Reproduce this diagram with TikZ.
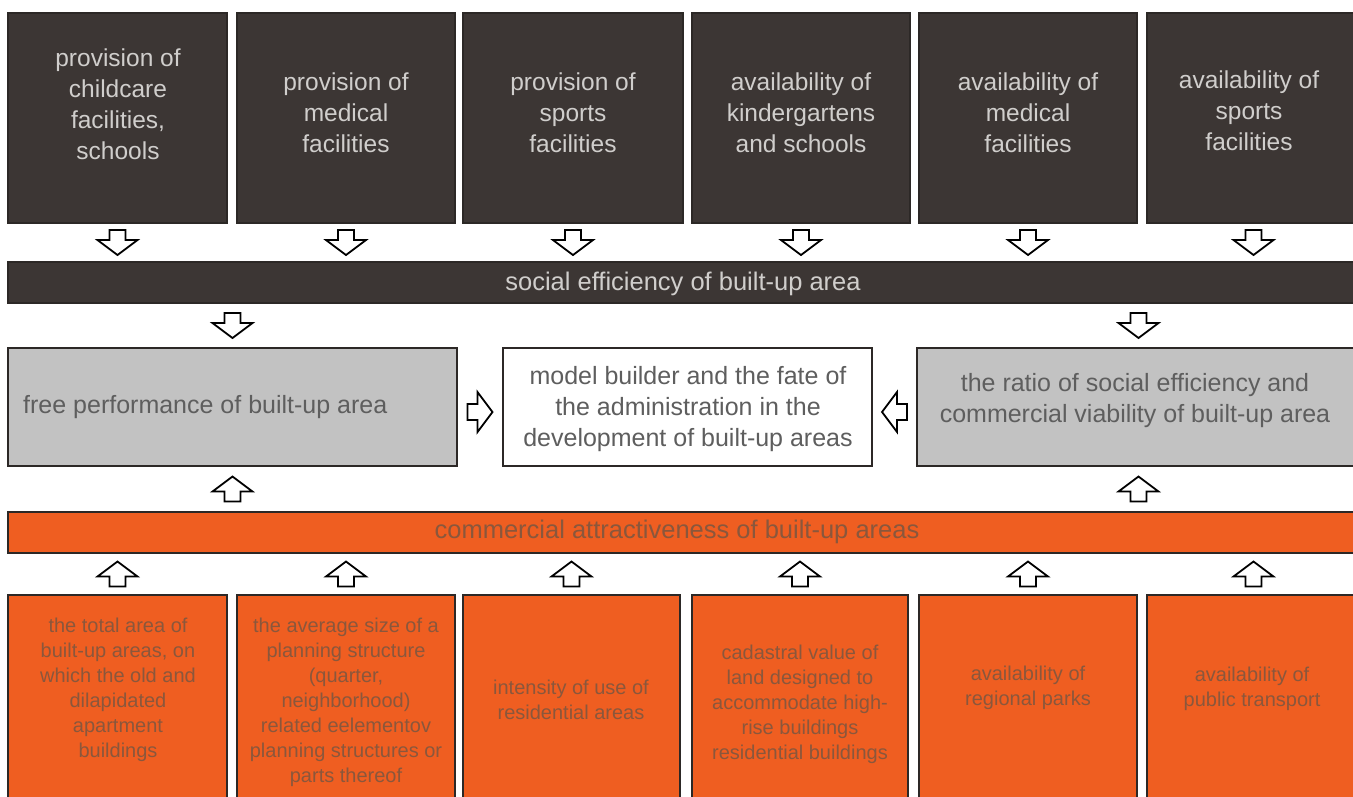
\documentclass[tikz,border=0pt]{standalone}
\usepackage{fontspec}
\setmainfont{Liberation Sans}
\usetikzlibrary{calc}
\definecolor{darkbox}{HTML}{3C3634}
\definecolor{lighttext}{HTML}{D0CECC}
\definecolor{graybox}{HTML}{C2C2C2}
\definecolor{graytext}{HTML}{5E5E5E}
\definecolor{orangebox}{HTML}{EF5E21}
\definecolor{orangetext}{HTML}{8A573C}
\definecolor{edgecol}{HTML}{2C2826}
\tikzset{
  cell/.style={draw=edgecol, line width=2pt, inner sep=0pt, outer sep=0pt, anchor=north west},
  darkcell/.style={cell, fill=darkbox},
  graycell/.style={cell, fill=graybox},
  whitecell/.style={cell, fill=white},
  orangecell/.style={cell, fill=orangebox},
  toptext/.style={align=center, text=lighttext, font=\fontsize{24.5}{31}\selectfont, inner sep=0pt},
  midtext/.style={align=center, text=graytext, font=\fontsize{25}{31}\selectfont, inner sep=0pt},
  bartext/.style={text=lighttext, font=\fontsize{25.5}{31}\selectfont, inner sep=0pt},
  obartext/.style={text=orangetext, font=\fontsize{25.5}{31}\selectfont, inner sep=0pt},
  bottext/.style={align=center, text=orangetext, font=\fontsize{20}{25}\selectfont, inner sep=0pt},
  blockarrow/.style={draw=black, fill=white, line width=1.8pt, line join=miter},
  downarr/.pic={\draw[blockarrow] (-8,-12.5) -- (8,-12.5) -- (8,-2.5) -- (20,-2.5) -- (0,12.5) -- (-20,-2.5) -- (-8,-2.5) -- cycle;},
  uparr/.pic={\draw[blockarrow] (-8,12.5) -- (8,12.5) -- (8,2.5) -- (20,2.5) -- (0,-12.5) -- (-20,2.5) -- (-8,2.5) -- cycle;},
  rightarr/.pic={\draw[blockarrow] (-12.5,-8) -- (-2.5,-8) -- (-2.5,-20) -- (12.5,0) -- (-2.5,20) -- (-2.5,8) -- (-12.5,8) -- cycle;},
  leftarr/.pic={\draw[blockarrow] (12.5,-8) -- (2.5,-8) -- (2.5,-20) -- (-12.5,0) -- (2.5,20) -- (2.5,8) -- (12.5,8) -- cycle;},
}
\begin{document}
\begin{tikzpicture}[x=1pt,y=-1pt]
\useasboundingbox (0,0) rectangle (1353,796);
\clip (0,0) rectangle (1353,796);
\fill[white] (0,0) rectangle (1353,796);

% top row
\node[darkcell, minimum width=219pt, minimum height=210pt] (t1) at (8,13) {};
\node[darkcell, minimum width=218pt, minimum height=210pt] (t2) at (237,13) {};
\node[darkcell, minimum width=220pt, minimum height=210pt] (t3) at (463,13) {};
\node[darkcell, minimum width=218pt, minimum height=210pt] (t4) at (692,13) {};
\node[darkcell, minimum width=218pt, minimum height=210pt] (t5) at (919,13) {};
\node[darkcell, minimum width=213pt, minimum height=210pt] (t6) at (1147,13) {};
\node[toptext] (t1l) at (118,104) {provision of\\childcare\\facilities,\\schools};
\node[toptext] (t2l) at (346,113) {provision of\\medical\\facilities};
\node[toptext] (t3l) at (573,113) {provision of\\sports\\facilities};
\node[toptext] (t4l) at (801,113) {availability of\\kindergartens\\and schools};
\node[toptext] (t5l) at (1028,113) {availability of\\medical\\facilities};
\node[toptext] (t6l) at (1249,111) {availability of\\sports\\facilities};

% social bar
\node[darkcell, minimum width=1352pt, minimum height=41pt] (soc) at (8,262) {};
\node[bartext] (socl) at (683,284) {social efficiency of built-up area};

% middle row
\node[graycell, minimum width=449pt, minimum height=118pt] (free) at (8,348) {};
\node[graytext, font=\fontsize{25}{31}\selectfont, inner sep=0pt, anchor=west] (freel) at (23,407) {free performance of built-up area};
\node[whitecell, minimum width=369pt, minimum height=118pt] (model) at (503,348) {};
\node[midtext] (modell) at (688,409) {model builder and the fate of\\the administration in the\\development of built-up areas};
\node[graycell, minimum width=443pt, minimum height=118pt] (ratio) at (917,348) {};
\node[midtext] (ratiol) at (1135,401) {the ratio of social efficiency and\\commercial viability of built-up area};

% commercial bar
\node[orangecell, minimum width=1352pt, minimum height=41pt] (comm) at (8,512) {};
\node[obartext] (comml) at (677,532) {commercial attractiveness of built-up areas};

% bottom row
\node[orangecell, minimum width=219pt, minimum height=212pt] (b1) at (8,595) {};
\node[orangecell, minimum width=218pt, minimum height=212pt] (b2) at (237,595) {};
\node[orangecell, minimum width=217pt, minimum height=212pt] (b3) at (463,595) {};
\node[orangecell, minimum width=216pt, minimum height=212pt] (b4) at (692,595) {};
\node[orangecell, minimum width=218pt, minimum height=212pt] (b5) at (919,595) {};
\node[orangecell, minimum width=213pt, minimum height=212pt] (b6) at (1147,595) {};
\node[bottext] (b1l) at (118,690) {the total area of\\built-up areas, on\\which the old and\\dilapidated\\apartment\\buildings};
\node[bottext] (b2l) at (346,702) {the average size of a\\planning structure\\(quarter,\\neighborhood)\\related eelementov\\planning structures or\\parts thereof};
\node[bottext] (b3l) at (571,700) {intensity of use of\\residential areas};
\node[bottext] (b4l) at (800,704) {cadastral value of\\land designed to\\accommodate high-\\rise buildings\\residential buildings};
\node[bottext] (b5l) at (1028,688) {availability of\\regional parks};
\node[bottext] (b6l) at (1252,689) {availability of\\public transport};

% arrows: top boxes -> social bar
\foreach \n in {t1,t2,t3,t4,t5,t6}
  \pic at ($(\n.south)!0.5!(soc.north -| \n.south)$) {downarr};
% social bar -> middle gray boxes
\pic at ($(soc.south -| free.north)!0.5!(free.north)$) {downarr};
\pic at ($(soc.south -| ratio.north)!0.5!(ratio.north)$) {downarr};
% gray boxes -> model
\pic at ($(free.east)!0.5!(model.west)+(0,5)$) {rightarr};
\pic at ($(ratio.west)!0.5!(model.east)+(0,5)$) {leftarr};
% commercial bar -> gray boxes
\pic at ($(free.south)!0.5!(comm.north -| free.south)$) {uparr};
\pic at ($(ratio.south)!0.5!(comm.north -| ratio.south)$) {uparr};
% bottom boxes -> commercial bar
\foreach \n in {b1,b2,b3,b4,b5,b6}
  \pic at ($(\n.north)!0.5!(comm.south -| \n.north)$) {uparr};
\end{tikzpicture}
\end{document}
